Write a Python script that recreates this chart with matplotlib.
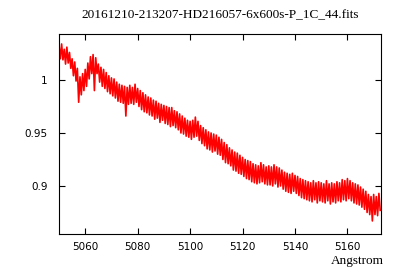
import numpy as np
import matplotlib
matplotlib.use('Agg')
import matplotlib.pyplot as plt

# spectrum, 0.5 Angstrom grid starting at 5050
wave_start = 5050.0
wave_step = 0.5
flux = [
    1.033, 1.020, 1.034, 1.019, 1.029, 1.015, 1.031, 1.016, 1.026, 1.011,
    1.020, 1.004, 1.017, 0.999, 1.011, 0.979, 1.003, 0.986, 1.006, 0.990,
    1.010, 0.994, 1.016, 1.001, 1.022, 1.006, 1.024, 0.990, 1.021, 1.006,
    1.015, 0.998, 1.012, 0.994, 1.010, 0.992, 1.007, 0.989, 1.004, 0.987,
    1.002, 0.985, 1.001, 0.983, 0.998, 0.980, 0.996, 0.979, 0.995, 0.978,
    0.994, 0.966, 0.993, 0.977, 0.995, 0.978, 0.993, 0.977, 0.996, 0.979,
    0.992, 0.975, 0.990, 0.972, 0.988, 0.970, 0.986, 0.969, 0.984, 0.967,
    0.983, 0.966, 0.981, 0.963, 0.980, 0.964, 0.978, 0.960, 0.977, 0.962,
    0.976, 0.959, 0.975, 0.958, 0.974, 0.956, 0.974, 0.957, 0.971, 0.955,
    0.970, 0.953, 0.968, 0.950, 0.966, 0.949, 0.964, 0.947, 0.962, 0.946,
    0.961, 0.944, 0.962, 0.946, 0.965, 0.947, 0.961, 0.943, 0.957, 0.940,
    0.955, 0.938, 0.953, 0.935, 0.951, 0.934, 0.950, 0.932, 0.949, 0.933,
    0.948, 0.930, 0.946, 0.929, 0.944, 0.925, 0.941, 0.922, 0.939, 0.921,
    0.936, 0.919, 0.934, 0.915, 0.932, 0.914, 0.931, 0.912, 0.929, 0.911,
    0.927, 0.909, 0.925, 0.907, 0.924, 0.906, 0.923, 0.904, 0.921, 0.903,
    0.920, 0.902, 0.919, 0.903, 0.922, 0.904, 0.920, 0.902, 0.918, 0.901,
    0.919, 0.901, 0.918, 0.900, 0.920, 0.902, 0.918, 0.899, 0.917, 0.900,
    0.915, 0.897, 0.913, 0.895, 0.912, 0.894, 0.911, 0.893, 0.912, 0.895,
    0.910, 0.893, 0.909, 0.891, 0.907, 0.889, 0.906, 0.888, 0.905, 0.887,
    0.904, 0.886, 0.903, 0.885, 0.905, 0.887, 0.903, 0.884, 0.904, 0.886,
    0.903, 0.885, 0.902, 0.884, 0.905, 0.886, 0.902, 0.883, 0.903, 0.885,
    0.902, 0.884, 0.904, 0.886, 0.903, 0.885, 0.906, 0.887, 0.905, 0.886,
    0.907, 0.888, 0.905, 0.886, 0.903, 0.884, 0.902, 0.883, 0.901, 0.882,
    0.899, 0.880, 0.897, 0.878, 0.895, 0.875, 0.892, 0.873, 0.890, 0.867,
    0.892, 0.873, 0.890, 0.872, 0.893, 0.877,
]
wave = wave_start + wave_step * np.arange(len(flux))

x_ticks = [5060, 5080, 5100, 5120, 5140, 5160]
y_ticks = [0.9, 0.95, 1.0]
y_tick_labels = ['0.9', '0.95', '1']
title = '20161210-213207-HD216057-6x600s-P_1C_44.fits'

fig = plt.figure(figsize=(4, 2.8), dpi=100)
ax = fig.add_axes([0.1475, 0.1643, 0.805, 0.7143])

ax.plot(wave, flux, color='red', lw=1.2)

ax.set_xlim(5050, 5172.8)
ax.set_ylim(0.8547, 1.0434)
ax.set_xticks(x_ticks)
ax.set_xticklabels([str(t) for t in x_ticks])
ax.set_yticks(y_ticks)
ax.set_yticklabels(y_tick_labels)
ax.tick_params(direction='in', top=True, right=True, length=4, width=0.8,
               labelsize=7.5)
ax.tick_params(axis='x', pad=6)
ax.tick_params(axis='y', pad=8)
for s in ax.spines.values():
    s.set_linewidth(0.8)

fig.text(0.55, 0.945, title, ha='center', va='center',
         family='Liberation Serif', fontsize=9.5)
fig.text(0.96, 0.068, 'Angstrom', ha='right', va='center',
         family='Liberation Serif', fontsize=9.5)

fig.savefig('out.png', dpi=100)
